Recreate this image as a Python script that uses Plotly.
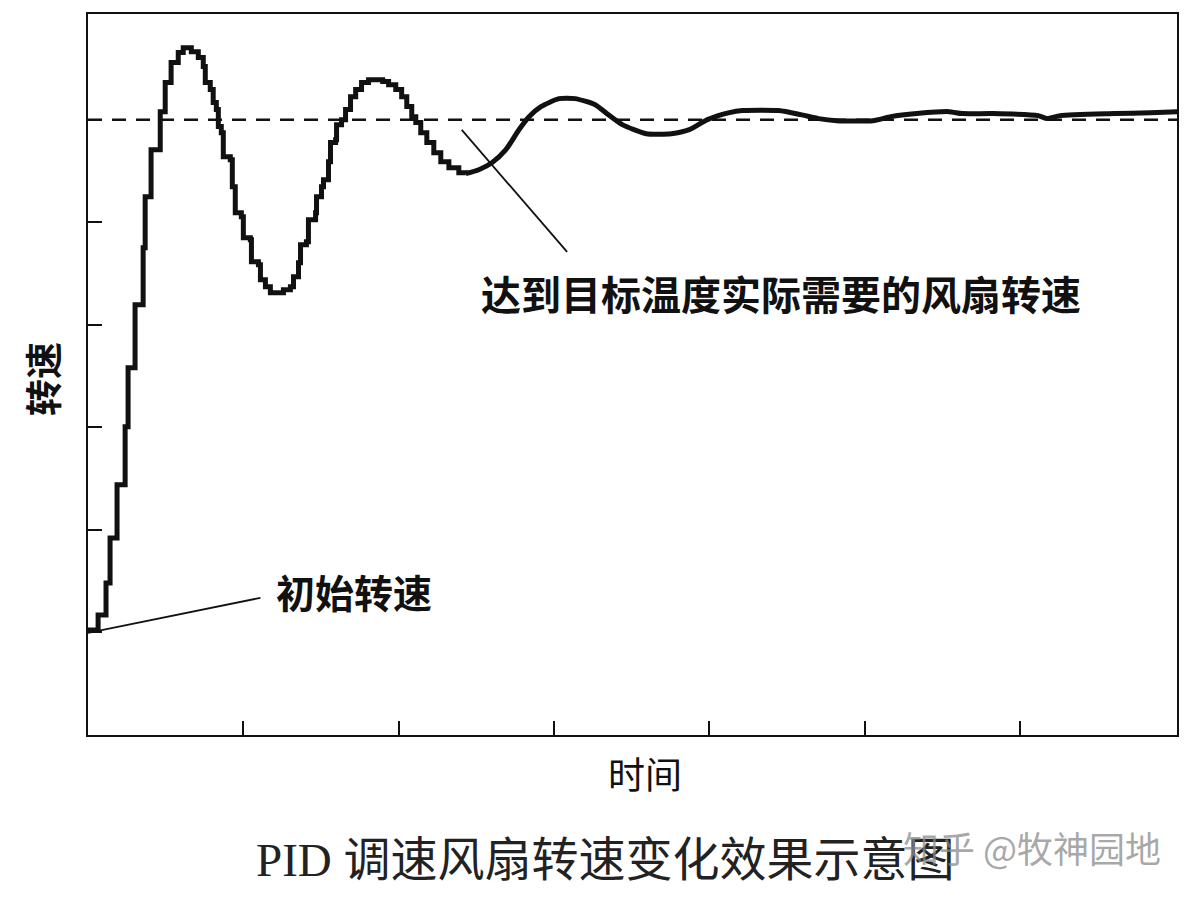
import plotly.graph_objects as go

# 阶梯段（PID 调节初期，转速逐级变化）
step_time = [0.000, 0.065, 0.116, 0.142, 0.187, 0.239, 0.258, 0.303, 0.355, 0.368,
             0.406, 0.465, 0.497, 0.535, 0.581, 0.613, 0.665, 0.710, 0.742, 0.755,
             0.787, 0.806, 0.826, 0.839, 0.858, 0.871, 0.916, 0.929, 0.948, 0.987,
             1.000, 1.045, 1.052, 1.097, 1.110, 1.142, 1.174, 1.258, 1.303, 1.323,
             1.355, 1.368, 1.406, 1.419, 1.465, 1.471, 1.503, 1.516, 1.548, 1.561,
             1.594, 1.600, 1.632, 1.658, 1.690, 1.723, 1.761, 1.806, 1.897, 1.935,
             1.981, 2.019, 2.052, 2.084, 2.110, 2.142, 2.181, 2.226, 2.271, 2.323,
             2.387, 2.432]
step_speed = [1.024, 1.171, 1.483, 1.922, 2.439, 3.005, 3.580, 4.195, 4.751, 5.249,
              5.707, 6.078, 6.361, 6.556, 6.654, 6.702, 6.663, 6.605, 6.517, 6.361,
              6.293, 6.166, 6.098, 5.932, 5.873, 5.639, 5.610, 5.346, 5.093, 5.054,
              4.849, 4.829, 4.615, 4.585, 4.439, 4.371, 4.312, 4.341, 4.371, 4.468,
              4.605, 4.780, 4.810, 5.024, 5.093, 5.249, 5.346, 5.415, 5.590, 5.776,
              5.805, 5.951, 6.000, 6.098, 6.224, 6.293, 6.361, 6.390, 6.371, 6.341,
              6.293, 6.224, 6.127, 6.029, 5.971, 5.873, 5.776, 5.678, 5.590, 5.532,
              5.483, 5.473]

# 后段（逐渐稳定在目标转速附近）
tail_time = [2.432, 2.516, 2.600, 2.690, 2.774, 2.839, 2.916, 3.032, 3.135, 3.265,
             3.348, 3.439, 3.594, 3.755, 3.871, 3.987, 4.129, 4.213, 4.445, 4.587,
             4.703, 4.819, 5.052, 5.168, 5.335, 5.542, 5.626, 5.826, 6.116, 6.174,
             6.258, 6.606, 6.839, 7.013]
tail_speed = [5.473, 5.512, 5.580, 5.707, 5.902, 6.029, 6.127, 6.205, 6.205, 6.146,
              6.049, 5.951, 5.863, 5.863, 5.902, 6.000, 6.068, 6.088, 6.088, 6.049,
              6.010, 5.990, 5.990, 6.029, 6.059, 6.078, 6.059, 6.059, 6.039, 6.010,
              6.039, 6.059, 6.068, 6.078]

target_speed = 6.0
x_ticks = [1, 2, 3, 4, 5, 6]
y_ticks = [1, 2, 3, 4, 5, 6]

CJK = "Noto Sans CJK SC"
INK = "#111111"

fig = go.Figure()
fig.add_trace(go.Scatter(x=step_time, y=step_speed, mode="lines",
                         line=dict(color=INK, width=5, shape="hv"),
                         hoverinfo="skip", showlegend=False))
fig.add_trace(go.Scatter(x=tail_time, y=tail_speed, mode="lines",
                         line=dict(color=INK, width=5, shape="spline", smoothing=0.6),
                         hoverinfo="skip", showlegend=False))

# 目标转速虚线
fig.add_shape(type="line", xref="paper", x0=0, x1=1, yref="y",
              y0=target_speed, y1=target_speed,
              line=dict(color=INK, width=2.5, dash="14px,10px"), layer="below")

# 引线
fig.add_shape(type="line", x0=2.406, y0=5.90, x1=3.084, y1=4.71,
              line=dict(color=INK, width=1.8))
fig.add_shape(type="line", x0=0.0, y0=0.995, x1=1.110, y1=1.337,
              line=dict(color=INK, width=1.8))

fig.add_annotation(x=4.46, y=4.31, text="达到目标温度实际需要的风扇转速",
                   showarrow=False, font=dict(family=CJK, size=40, color=INK, weight=700))
fig.add_annotation(x=1.71, y=1.40, text="初始转速",
                   showarrow=False, font=dict(family=CJK, size=39, color=INK, weight=700))

# 坐标轴标题与图注（画布坐标）
outside = dict(xref="paper", yref="paper", xanchor="center", yanchor="middle",
               showarrow=False)
fig.add_annotation(x=-0.042, y=0.494, text="转速", textangle=-90,
                   font=dict(family=CJK, size=37, color=INK, weight=700), **outside)
fig.add_annotation(x=0.5115, y=-0.053, text="时间",
                   font=dict(family=CJK, size=37, color=INK), **outside)
fig.add_annotation(x=0.4747, y=-0.173, text="PID 调速风扇转速变化效果示意图",
                   font=dict(family="Liberation Serif, " + CJK, size=47, color="#222222"),
                   **outside)
fig.add_annotation(x=0.867, y=-0.156, text="知乎 @牧神园地",
                   font=dict(family=CJK, size=36, color="rgba(140,140,140,0.75)"),
                   **outside)

axis_common = dict(showgrid=False, zeroline=False, showline=True, linecolor=INK,
                   linewidth=2, mirror=True, ticks="inside", ticklen=14,
                   tickwidth=1.5, tickcolor=INK, showticklabels=False, fixedrange=True)

fig.update_xaxes(range=[0, 7.01], tickvals=x_ticks, **axis_common)
fig.update_yaxes(range=[0, 7.03], tickvals=y_ticks, **axis_common)

# 页面自带 8px 边距，画布相应缩小
fig.update_layout(width=1184, height=890,
                  margin=dict(l=80, r=15, t=4, b=163),
                  paper_bgcolor="white", plot_bgcolor="white")

fig.write_html("out.html")
